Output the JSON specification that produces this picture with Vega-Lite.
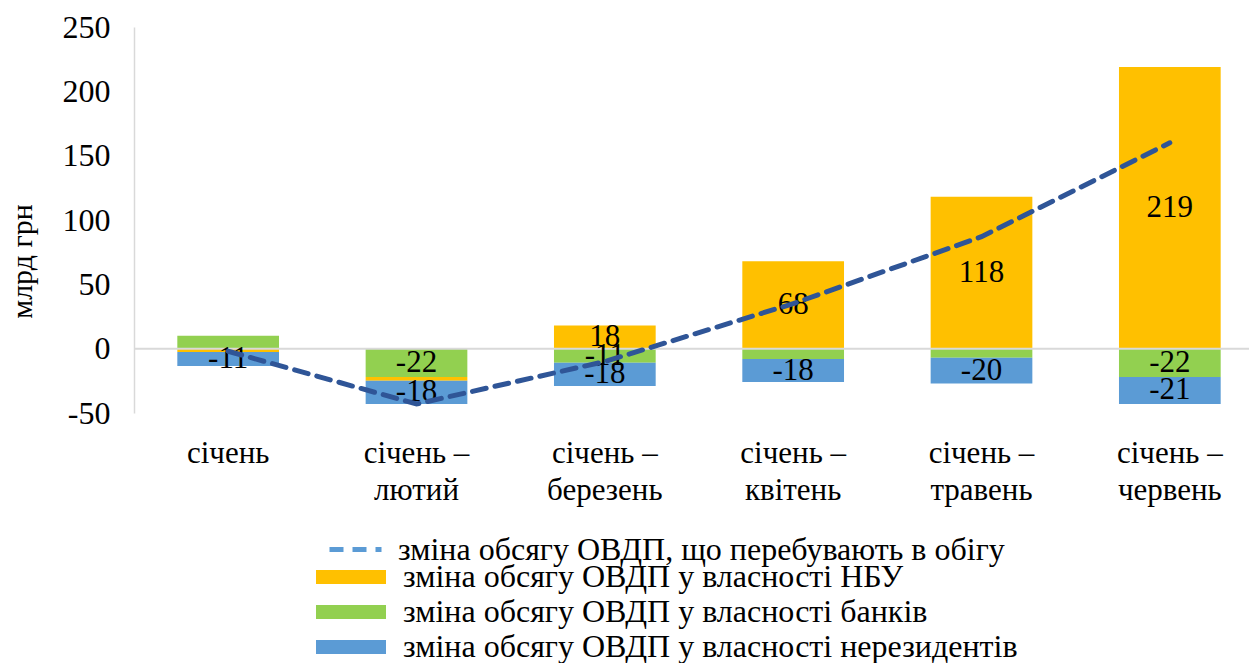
{
  "$schema": "https://vega.github.io/schema/vega-lite/v6.json",
  "autosize": "none",
  "padding": {"left": 134, "top": 27, "right": 0, "bottom": 250},
  "width": 1130,
  "height": 386,
  "background": "white",
  "config": {
    "font": "Liberation Serif",
    "view": {"stroke": null},
    "axis": {"labelFont": "Liberation Serif", "titleFont": "Liberation Serif", "labelColor": "black", "titleColor": "black"},
    "legend": {"labelFont": "Liberation Serif", "labelFontSize": 32, "labelColor": "black", "labelLimit": 1000, "padding": 0, "title": null}
  },
  "datasets": {
    "bars": [
      {"period": "січень", "series": "зміна обсягу ОВДП у власності банків", "ord": 1, "value": 10},
      {"period": "січень", "series": "зміна обсягу ОВДП у власності НБУ", "ord": 2, "value": -2.5},
      {"period": "січень", "series": "зміна обсягу ОВДП у власності нерезидентів", "ord": 3, "value": -11},
      {"period": "січень – лютий", "series": "зміна обсягу ОВДП у власності банків", "ord": 1, "value": -22},
      {"period": "січень – лютий", "series": "зміна обсягу ОВДП у власності НБУ", "ord": 2, "value": -3},
      {"period": "січень – лютий", "series": "зміна обсягу ОВДП у власності нерезидентів", "ord": 3, "value": -18},
      {"period": "січень – березень", "series": "зміна обсягу ОВДП у власності банків", "ord": 1, "value": -11},
      {"period": "січень – березень", "series": "зміна обсягу ОВДП у власності НБУ", "ord": 2, "value": 18},
      {"period": "січень – березень", "series": "зміна обсягу ОВДП у власності нерезидентів", "ord": 3, "value": -18},
      {"period": "січень – квітень", "series": "зміна обсягу ОВДП у власності банків", "ord": 1, "value": -8},
      {"period": "січень – квітень", "series": "зміна обсягу ОВДП у власності НБУ", "ord": 2, "value": 68},
      {"period": "січень – квітень", "series": "зміна обсягу ОВДП у власності нерезидентів", "ord": 3, "value": -18},
      {"period": "січень – травень", "series": "зміна обсягу ОВДП у власності банків", "ord": 1, "value": -7},
      {"period": "січень – травень", "series": "зміна обсягу ОВДП у власності НБУ", "ord": 2, "value": 118},
      {"period": "січень – травень", "series": "зміна обсягу ОВДП у власності нерезидентів", "ord": 3, "value": -20},
      {"period": "січень – червень", "series": "зміна обсягу ОВДП у власності банків", "ord": 1, "value": -22},
      {"period": "січень – червень", "series": "зміна обсягу ОВДП у власності НБУ", "ord": 2, "value": 219},
      {"period": "січень – червень", "series": "зміна обсягу ОВДП у власності нерезидентів", "ord": 3, "value": -21}
    ],
    "line": [
      {"period": "січень", "series": "зміна обсягу ОВДП, що перебувають в обігу", "value": -2},
      {"period": "січень – лютий", "series": "зміна обсягу ОВДП, що перебувають в обігу", "value": -43},
      {"period": "січень – березень", "series": "зміна обсягу ОВДП, що перебувають в обігу", "value": -10},
      {"period": "січень – квітень", "series": "зміна обсягу ОВДП, що перебувають в обігу", "value": 35},
      {"period": "січень – травень", "series": "зміна обсягу ОВДП, що перебувають в обігу", "value": 87},
      {"period": "січень – червень", "series": "зміна обсягу ОВДП, що перебувають в обігу", "value": 160}
    ]
  },
  "layer": [
    {
      "data": {"name": "bars"},
      "transform": [
        {"stack": "value", "groupby": ["period"], "sort": [{"field": "ord", "order": "ascending"}], "as": ["v0", "v1"]}
      ],
      "mark": {"type": "bar"},
      "encoding": {
        "x": {
          "field": "period", "type": "nominal", "sort": null,
          "scale": {"paddingInner": 0.46, "paddingOuter": 0.23},
          "axis": {
            "title": null, "domain": false, "ticks": false, "labelAngle": 0,
            "labelFontSize": 31, "labelPadding": 25, "labelLineHeight": 37,
            "labelExpr": "split(replace(datum.value, ' – ', ' –|'), '|')"
          }
        },
        "y": {
          "field": "v0", "type": "quantitative",
          "scale": {"domain": [-50, 250], "nice": false, "zero": false},
          "axis": {
            "title": "млрд грн", "titleFontSize": 30, "titleFontWeight": "normal",
            "titleX": -112, "titleY": 234, "titleBaseline": "middle", "titleAngle": -90,
            "values": [-50, 0, 50, 100, 150, 200, 250],
            "labelExpr": "datum.value + ''",
            "labelFontSize": 32, "labelPadding": 24, "ticks": false, "grid": false,
            "domain": true, "domainColor": "#d9d9d9", "domainWidth": 1.5
          }
        },
        "y2": {"field": "v1"},
        "color": {
          "field": "series", "type": "nominal",
          "scale": {
            "domain": ["зміна обсягу ОВДП у власності НБУ", "зміна обсягу ОВДП у власності банків", "зміна обсягу ОВДП у власності нерезидентів"],
            "range": ["#FFC000", "#92D050", "#5B9BD5"]
          },
          "legend": {
            "orient": "none", "legendX": 201, "legendY": 534,
            "direction": "vertical",
            "symbolType": "M-5,-1H5V1H-5Z", "symbolSize": 196, "symbolStrokeWidth": 0,
            "labelOffset": 36, "rowPadding": 3, "symbolOpacity": 1
          }
        }
      }
    },
    {
      "data": {"values": [{"zero": 0}]},
      "mark": {"type": "rule", "color": "#d9d9d9", "strokeWidth": 2},
      "encoding": {"y": {"field": "zero", "type": "quantitative"}}
    },
    {
      "data": {"name": "bars"},
      "transform": [
        {"stack": "value", "groupby": ["period"], "sort": [{"field": "ord", "order": "ascending"}], "as": ["v0", "v1"]},
        {"filter": "abs(datum.value) >= 11"},
        {"calculate": "(datum.v0 + datum.v1) / 2", "as": "mid"}
      ],
      "mark": {"type": "text", "font": "Liberation Serif", "fontSize": 31, "color": "black", "baseline": "middle", "align": "center"},
      "encoding": {
        "x": {"field": "period", "type": "nominal", "sort": null},
        "y": {"field": "mid", "type": "quantitative"},
        "text": {"field": "value", "type": "nominal"}
      }
    },
    {
      "data": {"name": "line"},
      "mark": {"type": "line", "color": "#2F5597", "strokeWidth": 5, "strokeCap": "round"},
      "encoding": {
        "x": {"field": "period", "type": "nominal", "sort": null},
        "y": {"field": "value", "type": "quantitative"},
        "strokeDash": {
          "field": "series", "type": "nominal",
          "scale": {"domain": ["зміна обсягу ОВДП, що перебувають в обігу"], "range": [[14, 9]]},
          "legend": {
            "orient": "none", "legendX": 193, "legendY": 494,
            "symbolType": "stroke", "symbolSize": 2704, "symbolStrokeWidth": 5,
            "symbolStrokeColor": "#5B9BD5", "labelOffset": 14
          }
        }
      }
    }
  ]
}
